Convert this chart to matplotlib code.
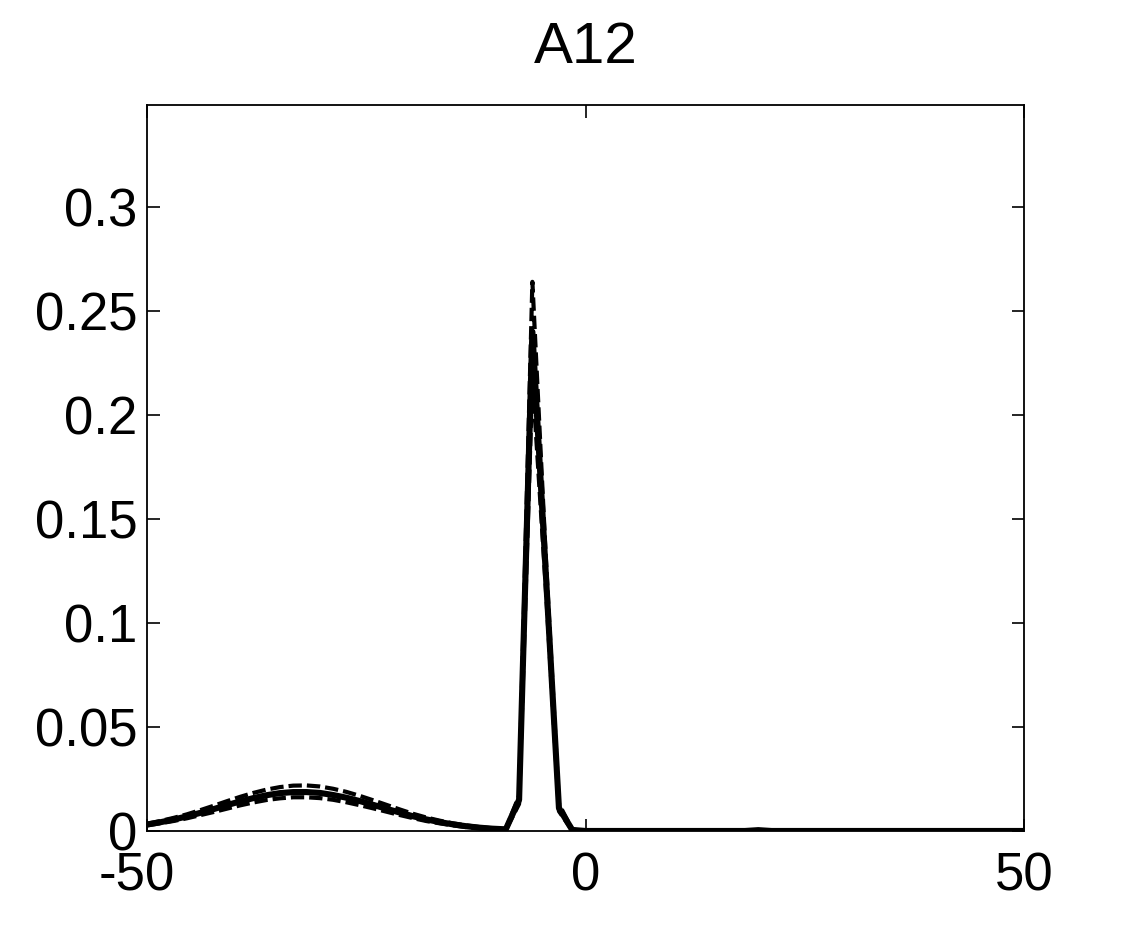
import numpy as np
import matplotlib
matplotlib.use("Agg")
import matplotlib.pyplot as plt
import matplotlib.transforms as mtransforms

plt.rcParams['font.family'] = ['Liberation Sans', 'DejaVu Sans']

# x grid: 67 evenly spaced samples from -50 to 50
x = np.linspace(-50, 50, 67)

mean_vals = [0.0031, 0.0042, 0.0055, 0.0070, 0.0087, 0.0105, 0.0124, 0.0142, 0.0158, 0.0172,
             0.0182, 0.0187, 0.0187, 0.0183, 0.0173, 0.0160, 0.0144, 0.0126, 0.0107, 0.0089,
             0.0071, 0.0056, 0.0043, 0.0032, 0.0023, 0.0016, 0.0011, 0.0008, 0.0150, 0.2400,
             0.1250, 0.0110, 0.0005, 0.0, 0.0, 0.0, 0.0, 0.0, 0.0, 0.0,
             0.0, 0.0, 0.0, 0.0, 0.0, 0.0, 0.0004, 0.0, 0.0, 0.0,
             0.0, 0.0, 0.0, 0.0, 0.0, 0.0, 0.0, 0.0, 0.0, 0.0,
             0.0, 0.0, 0.0, 0.0, 0.0, 0.0, 0.0]

upper_vals = [0.0035, 0.0048, 0.0063, 0.0080, 0.0100, 0.0121, 0.0143, 0.0164, 0.0183, 0.0199,
              0.0211, 0.0218, 0.0219, 0.0214, 0.0203, 0.0188, 0.0169, 0.0148, 0.0126, 0.0104,
              0.0083, 0.0065, 0.0050, 0.0037, 0.0027, 0.0019, 0.0013, 0.0010, 0.0170, 0.2640,
              0.1330, 0.0130, 0.0007, 0.0, 0.0, 0.0, 0.0, 0.0, 0.0, 0.0,
              0.0, 0.0, 0.0, 0.0, 0.0, 0.0, 0.0005, 0.0, 0.0, 0.0,
              0.0, 0.0, 0.0, 0.0, 0.0, 0.0, 0.0, 0.0, 0.0, 0.0,
              0.0, 0.0, 0.0, 0.0, 0.0, 0.0, 0.0]

lower_vals = [0.0027, 0.0037, 0.0048, 0.0061, 0.0076, 0.0091, 0.0107, 0.0123, 0.0137, 0.0149,
              0.0157, 0.0162, 0.0162, 0.0158, 0.0150, 0.0138, 0.0124, 0.0109, 0.0093, 0.0077,
              0.0062, 0.0048, 0.0037, 0.0027, 0.0019, 0.0013, 0.0009, 0.0006, 0.0130, 0.2180,
              0.1180, 0.0095, 0.0003, 0.0, 0.0, 0.0, 0.0, 0.0, 0.0, 0.0,
              0.0, 0.0, 0.0, 0.0, 0.0, 0.0, 0.0003, 0.0, 0.0, 0.0,
              0.0, 0.0, 0.0, 0.0, 0.0, 0.0, 0.0, 0.0, 0.0, 0.0,
              0.0, 0.0, 0.0, 0.0, 0.0, 0.0, 0.0]

xticks = [-50, 0, 50]
yticks = [0, 0.05, 0.1, 0.15, 0.2, 0.25, 0.3]
yticklabels = ['0', '0.05', '0.1', '0.15', '0.2', '0.25', '0.3']
title = 'A12'

fig = plt.figure(figsize=(11.32, 9.36), dpi=100)
ax = fig.add_axes([0.1299, 0.1122, 0.7747, 0.7756])

dash = (0, (3.2, 1.2))
ax.plot(x, upper_vals, color='black', lw=3.0, linestyle=dash)
ax.plot(x, lower_vals, color='black', lw=3.0, linestyle=dash)
ax.plot(x, mean_vals, color='black', lw=4.4)

ax.set_xlim(-50, 50)
ax.set_ylim(0, 0.349)
ax.set_xticks(xticks)
ax.set_xticklabels([str(t) for t in xticks])
ax.set_yticks(yticks)
ax.set_yticklabels(yticklabels)
ax.tick_params(direction='in', length=9, width=1.2, top=True, right=True,
               labelsize=38)
ax.tick_params(axis='x', pad=15)
ax.tick_params(axis='y', pad=7)
for sp in ax.spines.values():
    sp.set_linewidth(1.3)
ax.set_title(title, fontsize=42, pad=30)

# first x label is drawn slightly left of its tick in the reference
lbl = ax.get_xticklabels()[0]
lbl.set_transform(lbl.get_transform() + mtransforms.ScaledTranslation(-0.10, 0, fig.dpi_scale_trans))

fig.savefig('out.png', dpi=100, facecolor='white')
